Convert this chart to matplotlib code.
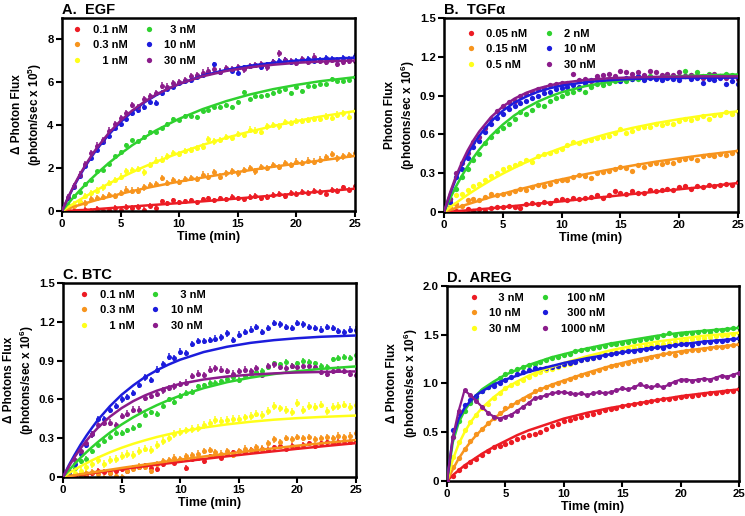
import numpy as np
import matplotlib
matplotlib.use("Agg")
import matplotlib.pyplot as plt
from matplotlib.lines import Line2D

plt.rcParams['font.family'] = ['Liberation Sans', 'DejaVu Sans']
plt.rcParams['font.weight'] = 'bold'
plt.rcParams['mathtext.fontset'] = 'custom'
plt.rcParams['mathtext.rm'] = 'Liberation Sans:bold'
plt.rcParams['mathtext.bf'] = 'Liberation Sans:bold'
plt.rcParams['mathtext.default'] = 'bf'

COLORS = ['#ec1c24', '#f7941d', '#ffff1a', '#2fd12f', '#1c1cdc', '#8b1c8b']

# time grid of data points (min) and of fitted-curve samples
T = np.linspace(0, 25, 51)
CT = [0, 0.5, 1, 1.5, 2, 2.5, 3, 4, 5, 6, 7, 8, 9, 10, 12, 14, 16, 18, 20, 22, 25]

# ---------------- A. EGF (x 10^5) ----------------
A_labels = ['0.1 nM', '0.3 nM', '   1 nM', '  3 nM', '10 nM', '30 nM']
A_red = [0, -0.05, 0.00, -0.05, 0.05, 0.00, 0.10, 0.00, 0.05, 0.15,
         0.05, 0.20, 0.15, 0.20, 0.05, 0.25, 0.15, 0.45, 0.35, 0.50,
         0.40, 0.45, 0.50, 0.40, 0.55, 0.60, 0.50, 0.60, 0.55, 0.65,
         0.60, 0.55, 0.65, 0.70, 0.60, 0.65, 0.75, 0.80, 0.70, 0.85,
         0.80, 0.90, 0.85, 0.95, 0.90, 0.80, 1.00, 0.95, 1.10, 1.00,
         1.15]
A_orange = [0, 0.10, 0.25, 0.40, 0.35, 0.55, 0.60, 0.65, 0.75, 0.70,
            0.85, 1.00, 0.95, 0.95, 1.10, 1.20, 1.25, 1.55, 1.30, 1.45,
            1.35, 1.50, 1.55, 1.50, 1.70, 1.60, 1.80, 1.60, 1.75, 1.85,
            1.75, 1.90, 2.00, 1.85, 2.05, 2.00, 2.15, 2.05, 2.25, 2.15,
            2.30, 2.25, 2.35, 2.30, 2.40, 2.50, 2.65, 2.45, 2.55, 2.60,
            2.70]
A_yellow = [0, 0.15, 0.30, 0.40, 0.70, 0.85, 0.95, 1.10, 1.30, 1.45,
            1.60, 1.85, 1.90, 1.95, 1.80, 2.15, 2.35, 2.40, 2.55, 2.70,
            2.65, 2.80, 2.85, 2.95, 3.00, 3.35, 3.25, 3.30, 3.45, 3.40,
            3.60, 3.55, 3.80, 3.75, 3.70, 3.95, 4.00, 3.95, 4.15, 4.10,
            4.20, 4.20, 4.25, 4.30, 4.30, 4.40, 4.35, 4.50, 4.55, 4.40,
            4.65]
A_green = [0, 0.30, 0.70, 0.90, 1.25, 1.45, 1.85, 1.90, 2.20, 2.55,
           2.75, 3.10, 3.30, 3.25, 3.45, 3.70, 3.70, 3.85, 4.05, 4.30,
           4.25, 4.45, 4.45, 4.40, 4.65, 4.70, 4.85, 4.85, 4.95, 4.85,
           5.10, 5.55, 5.20, 5.35, 5.35, 5.40, 5.50, 5.60, 5.70, 5.50,
           5.80, 5.60, 5.85, 5.85, 5.90, 5.90, 6.15, 6.05, 6.05, 6.10,
           6.25]
A_blue = [0, 0.60, 1.10, 1.62, 2.10, 2.45, 2.85, 3.22, 3.50, 3.85,
          4.05, 4.30, 4.55, 4.70, 4.85, 5.10, 5.05, 5.50, 5.70, 5.80,
          5.95, 6.05, 6.10, 6.25, 6.35, 6.45, 6.85, 6.50, 6.60, 6.55,
          6.45, 6.70, 6.75, 6.80, 6.70, 6.85, 6.95, 7.00, 7.05, 6.95,
          7.00, 7.05, 7.10, 7.00, 7.05, 7.15, 7.10, 7.05, 7.15, 7.10,
          7.25]
A_purple = [0, 0.65, 1.15, 1.70, 2.20, 2.70, 3.05, 3.30, 3.75, 4.05,
            4.35, 4.55, 4.95, 4.85, 5.20, 5.35, 5.50, 5.85, 5.80, 5.95,
            6.00, 6.10, 6.30, 6.35, 6.45, 6.55, 6.60, 6.50, 6.65, 6.60,
            6.70, 6.60, 6.75, 6.80, 6.85, 6.70, 6.95, 7.35, 7.05, 7.00,
            6.90, 7.10, 6.95, 7.20, 7.00, 6.95, 7.05, 6.85, 6.95, 7.00,
            7.00]
A_err = [0.12, 0.15, 0.15, 0.08, 0.12, 0.15]
A_fit_red = [0, 0.01, 0.02, 0.04, 0.05, 0.07, 0.09, 0.13, 0.17, 0.21, 0.25,
             0.29, 0.33, 0.37, 0.45, 0.54, 0.63, 0.72, 0.81, 0.90, 1.04]
A_fit_orange = [0, 0.10, 0.20, 0.28, 0.36, 0.44, 0.52, 0.66, 0.80, 0.93, 1.05,
                1.16, 1.27, 1.37, 1.56, 1.74, 1.90, 2.06, 2.21, 2.35, 2.57]
A_fit_yellow = [0, 0.18, 0.35, 0.52, 0.68, 0.83, 0.99, 1.28, 1.55, 1.81, 2.06,
                2.29, 2.50, 2.71, 3.08, 3.41, 3.70, 3.96, 4.19, 4.40, 4.66]
A_fit_green = [0, 0.33, 0.65, 0.95, 1.23, 1.50, 1.76, 2.24, 2.67, 3.07, 3.42,
               3.75, 4.03, 4.30, 4.75, 5.12, 5.43, 5.68, 5.88, 6.05, 6.24]
A_fit_blue = [0, 0.59, 1.13, 1.63, 2.09, 2.51, 2.90, 3.57, 4.15, 4.63, 5.05,
              5.39, 5.68, 5.92, 6.31, 6.58, 6.77, 6.91, 7.01, 7.08, 7.15]
A_fit_purple = [0, 0.61, 1.17, 1.68, 2.14, 2.57, 2.96, 3.64, 4.21, 4.69, 5.08,
                5.42, 5.69, 5.93, 6.28, 6.53, 6.70, 6.82, 6.91, 6.97, 7.02]

# ---------------- B. TGFalpha (x 10^6) ----------------
B_labels = ['0.05 nM', '0.15 nM', '0.5 nM', '2 nM', '10 nM', '30 nM']
B_red = [0, 0.00, 0.01, 0.00, 0.02, 0.01, 0.02, 0.01, 0.03, 0.04,
         0.04, 0.05, 0.04, 0.03, 0.06, 0.07, 0.06, 0.08, 0.07, 0.09,
         0.10, 0.09, 0.11, 0.10, 0.11, 0.12, 0.13, 0.11, 0.13, 0.16,
         0.15, 0.14, 0.16, 0.15, 0.15, 0.17, 0.16, 0.17, 0.18, 0.17,
         0.19, 0.20, 0.18, 0.20, 0.19, 0.21, 0.20, 0.21, 0.22, 0.21,
         0.23]
B_orange = [0, 0.04, 0.06, 0.05, 0.09, 0.10, 0.09, 0.12, 0.14, 0.13,
            0.14, 0.15, 0.16, 0.18, 0.17, 0.19, 0.21, 0.20, 0.22, 0.24,
            0.25, 0.25, 0.27, 0.29, 0.28, 0.26, 0.30, 0.31, 0.32, 0.33,
            0.35, 0.34, 0.32, 0.36, 0.35, 0.37, 0.38, 0.37, 0.39, 0.38,
            0.40, 0.41, 0.42, 0.40, 0.43, 0.44, 0.43, 0.45, 0.44, 0.46,
            0.47]
B_yellow = [0, 0.07, 0.13, 0.14, 0.17, 0.20, 0.22, 0.25, 0.28, 0.30,
            0.33, 0.35, 0.36, 0.38, 0.40, 0.39, 0.43, 0.45, 0.46, 0.47,
            0.49, 0.52, 0.54, 0.53, 0.55, 0.56, 0.57, 0.58, 0.59, 0.61,
            0.64, 0.61, 0.63, 0.65, 0.66, 0.66, 0.68, 0.67, 0.69, 0.68,
            0.70, 0.72, 0.71, 0.73, 0.74, 0.72, 0.75, 0.75, 0.77, 0.76,
            0.78]
B_green = [0, 0.10, 0.18, 0.27, 0.33, 0.40, 0.45, 0.53, 0.58, 0.63,
           0.65, 0.68, 0.72, 0.77, 0.76, 0.79, 0.83, 0.82, 0.86, 0.88,
           0.90, 0.92, 0.93, 0.95, 0.93, 0.97, 0.99, 0.98, 1.00, 1.01,
           1.02, 1.01, 1.03, 1.03, 1.04, 1.05, 1.04, 1.03, 1.05, 1.04,
           1.05, 1.09, 1.06, 1.08, 1.05, 1.07, 1.06, 1.05, 1.07, 1.06,
           1.06]
B_blue = [0, 0.08, 0.27, 0.33, 0.42, 0.50, 0.55, 0.62, 0.68, 0.73,
          0.76, 0.80, 0.82, 0.84, 0.86, 0.88, 0.90, 0.92, 0.93, 0.95,
          0.96, 0.97, 0.98, 0.97, 1.00, 1.02, 1.03, 1.01, 1.02, 1.03,
          1.01, 1.04, 1.03, 1.05, 1.02, 1.04, 1.03, 1.02, 1.04, 1.03,
          1.02, 1.05, 1.03, 1.04, 1.00, 1.03, 1.02, 1.04, 0.99, 1.01,
          0.99]
B_purple = [0, 0.10, 0.30, 0.38, 0.46, 0.54, 0.58, 0.65, 0.72, 0.78,
            0.82, 0.85, 0.86, 0.90, 0.91, 0.93, 0.95, 0.96, 0.98, 0.99,
            1.00, 1.00, 1.07, 1.02, 1.03, 1.01, 1.05, 1.06, 1.07, 1.05,
            1.09, 1.08, 1.07, 1.08, 1.06, 1.09, 1.08, 1.06, 1.07, 1.06,
            1.08, 1.05, 1.06, 1.05, 1.04, 1.06, 1.07, 1.05, 1.04, 1.05,
            1.03]
B_fit_red = [0, 0.003, 0.006, 0.010, 0.013, 0.017, 0.021, 0.029, 0.038, 0.047, 0.056,
             0.065, 0.074, 0.083, 0.102, 0.120, 0.139, 0.157, 0.176, 0.194, 0.224]
B_fit_orange = [0, 0.015, 0.031, 0.046, 0.060, 0.074, 0.088, 0.116, 0.141, 0.166, 0.189,
                0.211, 0.233, 0.253, 0.292, 0.327, 0.359, 0.389, 0.415, 0.440, 0.473]
B_fit_yellow = [0, 0.035, 0.069, 0.102, 0.133, 0.163, 0.192, 0.247, 0.297, 0.343, 0.386,
                0.426, 0.462, 0.496, 0.555, 0.607, 0.650, 0.687, 0.718, 0.745, 0.779]
B_fit_green = [0, 0.102, 0.194, 0.277, 0.353, 0.421, 0.483, 0.590, 0.676, 0.748, 0.806,
               0.854, 0.893, 0.926, 0.973, 1.005, 1.026, 1.041, 1.050, 1.057, 1.063]
B_fit_blue = [0, 0.136, 0.254, 0.357, 0.446, 0.523, 0.591, 0.701, 0.783, 0.847, 0.893,
              0.930, 0.957, 0.977, 1.004, 1.019, 1.029, 1.033, 1.036, 1.038, 1.039]
B_fit_purple = [0, 0.146, 0.272, 0.380, 0.474, 0.554, 0.623, 0.734, 0.816, 0.877, 0.922,
                0.955, 0.979, 0.998, 1.021, 1.034, 1.041, 1.045, 1.047, 1.049, 1.049]

# ---------------- C. BTC (x 10^6) ----------------
C_labels = ['0.1 nM', '0.3 nM', '   1 nM', '   3 nM', '10 nM', '30 nM']
C_red = [0, 0.00, 0.01, 0.02, 0.01, 0.03, 0.05, 0.04, 0.03, 0.05,
         0.06, 0.05, 0.07, 0.08, 0.09, 0.07, 0.06, 0.10, 0.12, 0.11,
         0.13, 0.07, 0.14, 0.15, 0.12, 0.16, 0.17, 0.15, 0.18, 0.19,
         0.20, 0.19, 0.21, 0.20, 0.22, 0.21, 0.23, 0.24, 0.22, 0.24,
         0.23, 0.25, 0.26, 0.24, 0.26, 0.27, 0.26, 0.27, 0.28, 0.27,
         0.28]
C_orange = [0, 0.00, 0.02, 0.01, 0.03, 0.04, 0.02, -0.01, 0.03, 0.01,
            0.00, 0.05, 0.06, 0.08, 0.08, 0.05, 0.10, 0.12, 0.13, 0.15,
            0.14, 0.16, 0.17, 0.18, 0.20, 0.21, 0.19, 0.18, 0.20, 0.17,
            0.20, 0.22, 0.21, 0.23, 0.22, 0.26, 0.29, 0.27, 0.30, 0.29,
            0.31, 0.30, 0.31, 0.29, 0.30, 0.31, 0.30, 0.32, 0.31, 0.32,
            0.34]
C_yellow = [0, 0.01, 0.03, 0.05, 0.08, 0.10, 0.13, 0.10, 0.13, 0.14,
            0.16, 0.18, 0.17, 0.20, 0.22, 0.21, 0.25, 0.28, 0.30, 0.33,
            0.35, 0.36, 0.37, 0.38, 0.40, 0.42, 0.44, 0.43, 0.44, 0.45,
            0.45, 0.46, 0.47, 0.49, 0.48, 0.51, 0.55, 0.53, 0.52, 0.50,
            0.57, 0.52, 0.55, 0.54, 0.56, 0.51, 0.54, 0.55, 0.56, 0.54,
            0.56]
C_green = [0, 0.02, 0.07, 0.12, 0.14, 0.20, 0.25, 0.28, 0.31, 0.34,
           0.34, 0.36, 0.38, 0.40, 0.48, 0.50, 0.49, 0.55, 0.60, 0.58,
           0.63, 0.65, 0.66, 0.70, 0.71, 0.73, 0.73, 0.74, 0.76, 0.77,
           0.75, 0.78, 0.80, 0.81, 0.82, 0.85, 0.88, 0.87, 0.89, 0.86,
           0.88, 0.90, 0.89, 0.88, 0.86, 0.85, 0.91, 0.92, 0.93, 0.92,
           0.94]
C_blue = [0, 0.04, 0.10, 0.18, 0.25, 0.33, 0.45, 0.45, 0.52, 0.55,
          0.60, 0.62, 0.65, 0.71, 0.77, 0.75, 0.83, 0.87, 0.93, 0.92,
          0.97, 0.96, 1.03, 1.05, 1.05, 1.06, 1.07, 1.08, 1.11, 1.06,
          1.10, 1.12, 1.14, 1.16, 1.12, 1.15, 1.19, 1.18, 1.16, 1.15,
          1.19, 1.18, 1.16, 1.15, 1.14, 1.16, 1.15, 1.13, 1.12, 1.14,
          1.14]
C_purple = [0, 0.05, 0.13, 0.20, 0.26, 0.33, 0.40, 0.42, 0.42, 0.40,
            0.47, 0.49, 0.52, 0.52, 0.61, 0.63, 0.64, 0.67, 0.69, 0.70,
            0.72, 0.73, 0.78, 0.80, 0.79, 0.83, 0.84, 0.83, 0.82, 0.80,
            0.82, 0.83, 0.82, 0.84, 0.79, 0.86, 0.87, 0.85, 0.84, 0.86,
            0.85, 0.86, 0.86, 0.85, 0.81, 0.80, 0.82, 0.83, 0.82, 0.80,
            0.79]
C_err = [0.02, 0.025, 0.03, 0.02, 0.025, 0.025]
C_fit_red = [0, 0.006, 0.012, 0.018, 0.024, 0.030, 0.036, 0.048, 0.060, 0.072, 0.083,
             0.095, 0.106, 0.117, 0.139, 0.160, 0.180, 0.199, 0.218, 0.236, 0.262]
C_fit_orange = [0, 0.007, 0.014, 0.021, 0.028, 0.035, 0.042, 0.056, 0.070, 0.083, 0.096,
                0.109, 0.122, 0.134, 0.158, 0.180, 0.202, 0.222, 0.242, 0.260, 0.286]
C_fit_yellow = [0, 0.029, 0.057, 0.083, 0.107, 0.130, 0.151, 0.191, 0.226, 0.257, 0.284,
                0.309, 0.330, 0.350, 0.382, 0.407, 0.427, 0.443, 0.455, 0.464, 0.475]
C_fit_green = [0, 0.052, 0.102, 0.149, 0.192, 0.233, 0.272, 0.343, 0.406, 0.462, 0.511,
               0.555, 0.594, 0.629, 0.687, 0.733, 0.768, 0.796, 0.818, 0.836, 0.855]
C_fit_blue = [0, 0.091, 0.173, 0.250, 0.320, 0.384, 0.444, 0.547, 0.636, 0.709, 0.773,
              0.825, 0.869, 0.907, 0.966, 1.007, 1.037, 1.058, 1.073, 1.084, 1.094]
C_fit_purple = [0, 0.082, 0.155, 0.221, 0.281, 0.335, 0.383, 0.466, 0.533, 0.587, 0.631,
                0.667, 0.696, 0.720, 0.754, 0.777, 0.791, 0.801, 0.808, 0.812, 0.816]

# ---------------- D. AREG (x 10^6) ----------------
D_labels = ['   3 nM', '10 nM', '30 nM', '  100 nM', '  300 nM', '1000 nM']
D_red = [0, 0.05, 0.11, 0.15, 0.20, 0.23, 0.27, 0.31, 0.35, 0.36,
         0.38, 0.40, 0.43, 0.45, 0.47, 0.48, 0.50, 0.53, 0.56, 0.58,
         0.62, 0.63, 0.65, 0.66, 0.68, 0.69, 0.71, 0.73, 0.74, 0.75,
         0.77, 0.78, 0.79, 0.80, 0.81, 0.82, 0.83, 0.84, 0.84, 0.85,
         0.86, 0.87, 0.87, 0.88, 0.89, 0.90, 0.90, 0.91, 0.92, 0.92,
         0.94]
D_orange = [0, 0.14, 0.24, 0.33, 0.41, 0.48, 0.53, 0.60, 0.65, 0.70,
            0.75, 0.78, 0.81, 0.84, 0.87, 0.92, 0.94, 0.96, 0.98, 1.01,
            1.03, 1.05, 1.07, 1.09, 1.10, 1.12, 1.14, 1.16, 1.18, 1.19,
            1.20, 1.21, 1.23, 1.24, 1.25, 1.27, 1.28, 1.30, 1.31, 1.29,
            1.32, 1.33, 1.34, 1.34, 1.35, 1.36, 1.37, 1.37, 1.38, 1.39,
            1.40]
D_yellow = [0, 0.25, 0.40, 0.52, 0.61, 0.68, 0.75, 0.79, 0.85, 0.90,
            0.95, 0.98, 1.01, 1.04, 1.07, 1.10, 1.12, 1.14, 1.15, 1.17,
            1.19, 1.20, 1.22, 1.24, 1.25, 1.26, 1.28, 1.30, 1.31, 1.32,
            1.34, 1.35, 1.36, 1.37, 1.38, 1.39, 1.40, 1.41, 1.42, 1.43,
            1.44, 1.45, 1.46, 1.47, 1.47, 1.48, 1.49, 1.50, 1.50, 1.51,
            1.52]
D_green = [0, 0.45, 0.62, 0.72, 0.80, 0.85, 0.92, 0.96, 1.01, 1.06,
           1.10, 1.13, 1.15, 1.17, 1.19, 1.20, 1.22, 1.24, 1.26, 1.27,
           1.29, 1.30, 1.33, 1.34, 1.35, 1.36, 1.37, 1.38, 1.40, 1.41,
           1.42, 1.43, 1.44, 1.45, 1.46, 1.47, 1.48, 1.50, 1.52, 1.50,
           1.51, 1.52, 1.52, 1.53, 1.54, 1.53, 1.55, 1.55, 1.56, 1.57,
           1.58]
D_blue = [0, 0.52, 0.70, 0.78, 0.83, 0.87, 0.92, 0.96, 0.97, 1.01,
          1.04, 1.07, 1.10, 1.12, 1.14, 1.16, 1.15, 1.16, 1.17, 1.18,
          1.20, 1.21, 1.22, 1.24, 1.25, 1.26, 1.27, 1.29, 1.30, 1.31,
          1.32, 1.33, 1.33, 1.34, 1.35, 1.36, 1.37, 1.36, 1.38, 1.39,
          1.40, 1.41, 1.39, 1.42, 1.43, 1.43, 1.44, 1.44, 1.45, 1.46,
          1.47]
D_purple = [0, 0.45, 0.72, 0.93, 0.88, 0.82, 0.76, 0.70, 0.66, 0.64,
            0.66, 0.68, 0.72, 0.76, 0.80, 0.85, 0.86, 0.88, 0.90, 0.91,
            0.91, 0.90, 0.89, 0.90, 0.88, 0.90, 0.91, 0.90, 0.91, 0.93,
            0.95, 0.94, 0.96, 0.99, 0.97, 0.96, 0.98, 0.96, 0.99, 1.02,
            1.04, 1.04, 1.03, 1.04, 1.05, 1.04, 1.06, 1.08, 1.07, 1.09,
            1.11]
D_fit_red = [0, 0.06, 0.11, 0.16, 0.20, 0.24, 0.28, 0.35, 0.41, 0.47, 0.52,
             0.56, 0.60, 0.64, 0.70, 0.75, 0.79, 0.83, 0.87, 0.90, 0.94]
D_fit_orange = [0, 0.12, 0.23, 0.32, 0.40, 0.47, 0.53, 0.64, 0.73, 0.81, 0.88,
                0.94, 0.99, 1.03, 1.11, 1.18, 1.24, 1.29, 1.33, 1.36, 1.40]
D_fit_yellow = [0, 0.22, 0.38, 0.50, 0.60, 0.68, 0.75, 0.86, 0.95, 1.02, 1.08,
                1.13, 1.17, 1.21, 1.28, 1.34, 1.39, 1.43, 1.46, 1.49, 1.52]
D_fit_green = [0, 0.40, 0.60, 0.72, 0.81, 0.88, 0.94, 1.02, 1.09, 1.14, 1.19,
               1.23, 1.27, 1.30, 1.36, 1.41, 1.45, 1.49, 1.52, 1.54, 1.57]
D_fit_blue = [0, 0.45, 0.64, 0.75, 0.82, 0.88, 0.92, 0.99, 1.04, 1.08, 1.12,
              1.15, 1.18, 1.21, 1.26, 1.30, 1.34, 1.37, 1.40, 1.43, 1.46]

fig = plt.figure(figsize=(7.45, 5.16), dpi=100)


def panel(rect, title, ylabel, ylim, yticks, yticklabels, data, fits, errs,
          labels, legend_anchor, connect_last=False):
    ax = fig.add_axes(rect)
    for i, (y, c) in enumerate(zip(data, COLORS)):
        if connect_last and i == len(data) - 1:
            ax.plot(T, y, '-o', color=c, ms=3.6, lw=1.6, mew=0, zorder=3)
            continue
        if errs is not None:
            ax.errorbar(T, y, yerr=errs[i], fmt='o', color=c, ms=3.6, mew=0,
                        elinewidth=1.1, capsize=1.8, capthick=1.1, zorder=2)
        else:
            ax.plot(T, y, 'o', color=c, ms=3.8, mew=0, zorder=2)
        if fits[i] is not None:
            ax.plot(CT, fits[i], '-', color=c, lw=1.8, zorder=3)
    ax.set_xlim(0, 25)
    ax.set_ylim(*ylim)
    ax.set_xticks([0, 5, 10, 15, 20, 25])
    ax.set_yticks(yticks)
    ax.set_yticklabels(yticklabels)
    for s in ax.spines.values():
        s.set_linewidth(1.8)
    ax.tick_params(direction='out', length=4, width=1.5, labelsize=8.2, pad=2)
    for lab in ax.get_xticklabels() + ax.get_yticklabels():
        lab.set_fontweight('bold')
    ax.set_xlabel('Time (min)', fontsize=9, fontweight='bold', labelpad=1)
    ax.set_ylabel(ylabel, fontsize=8.5, fontweight='bold', labelpad=2,
                  linespacing=1.25)
    ax.set_title(title, loc='left', fontsize=10.5, fontweight='bold', pad=3)
    handles = [Line2D([], [], ls='none', marker='o', color=c, ms=3.8, mew=0)
               for c in COLORS]
    ax.legend(handles, labels, ncol=2, loc='upper left',
              bbox_to_anchor=legend_anchor, frameon=False,
              prop={'size': 8, 'weight': 'bold'},
              handlelength=1.0, handletextpad=0.9, columnspacing=1.4,
              labelspacing=0.5, borderaxespad=0.2)
    return ax


panel([0.0832, 0.5911, 0.3933, 0.374], 'A.  EGF',
      'Δ Photon Flux\n(photon/sec x 10$^{5}$)', (0, 9), [0, 2, 4, 6, 8],
      ['0', '2', '4', '6', '8'],
      [A_red, A_orange, A_yellow, A_green, A_blue, A_purple],
      [A_fit_red, A_fit_orange, A_fit_yellow, A_fit_green, A_fit_blue, A_fit_purple],
      A_err, A_labels, (0.01, 1.0))

panel([0.596, 0.5891, 0.3946, 0.376], 'B.  TGFα',
      'Photon Flux\n(photons/sec x 10$^{6}$)', (0, 1.5),
      [0, 0.3, 0.6, 0.9, 1.2, 1.5], ['0', '0.3', '0.6', '0.9', '1.2', '1.5'],
      [B_red, B_orange, B_yellow, B_green, B_blue, B_purple],
      [B_fit_red, B_fit_orange, B_fit_yellow, B_fit_green, B_fit_blue, B_fit_purple],
      None, B_labels, (0.05, 0.98))

panel([0.0846, 0.0756, 0.3933, 0.376], 'C. BTC',
      'Δ Photons Flux\n(photons/sec x 10$^{6}$)', (0, 1.5),
      [0, 0.3, 0.6, 0.9, 1.2, 1.5], ['0', '0.3', '0.6', '0.9', '1.2', '1.5'],
      [C_red, C_orange, C_yellow, C_green, C_blue, C_purple],
      [C_fit_red, C_fit_orange, C_fit_yellow, C_fit_green, C_fit_blue, C_fit_purple],
      C_err, C_labels, (0.03, 1.0))

panel([0.6, 0.0678, 0.392, 0.378], 'D.  AREG',
      'Δ Photon Flux\n(photons/sec x 10$^{6}$)', (0, 2.0),
      [0, 0.5, 1.0, 1.5, 2.0], ['0', '0.5', '1.0', '1.5', '2.0'],
      [D_red, D_orange, D_yellow, D_green, D_blue, D_purple],
      [D_fit_red, D_fit_orange, D_fit_yellow, D_fit_green, D_fit_blue, None],
      None, D_labels, (0.05, 1.0), connect_last=True)

fig.savefig('out.png', dpi=100)
